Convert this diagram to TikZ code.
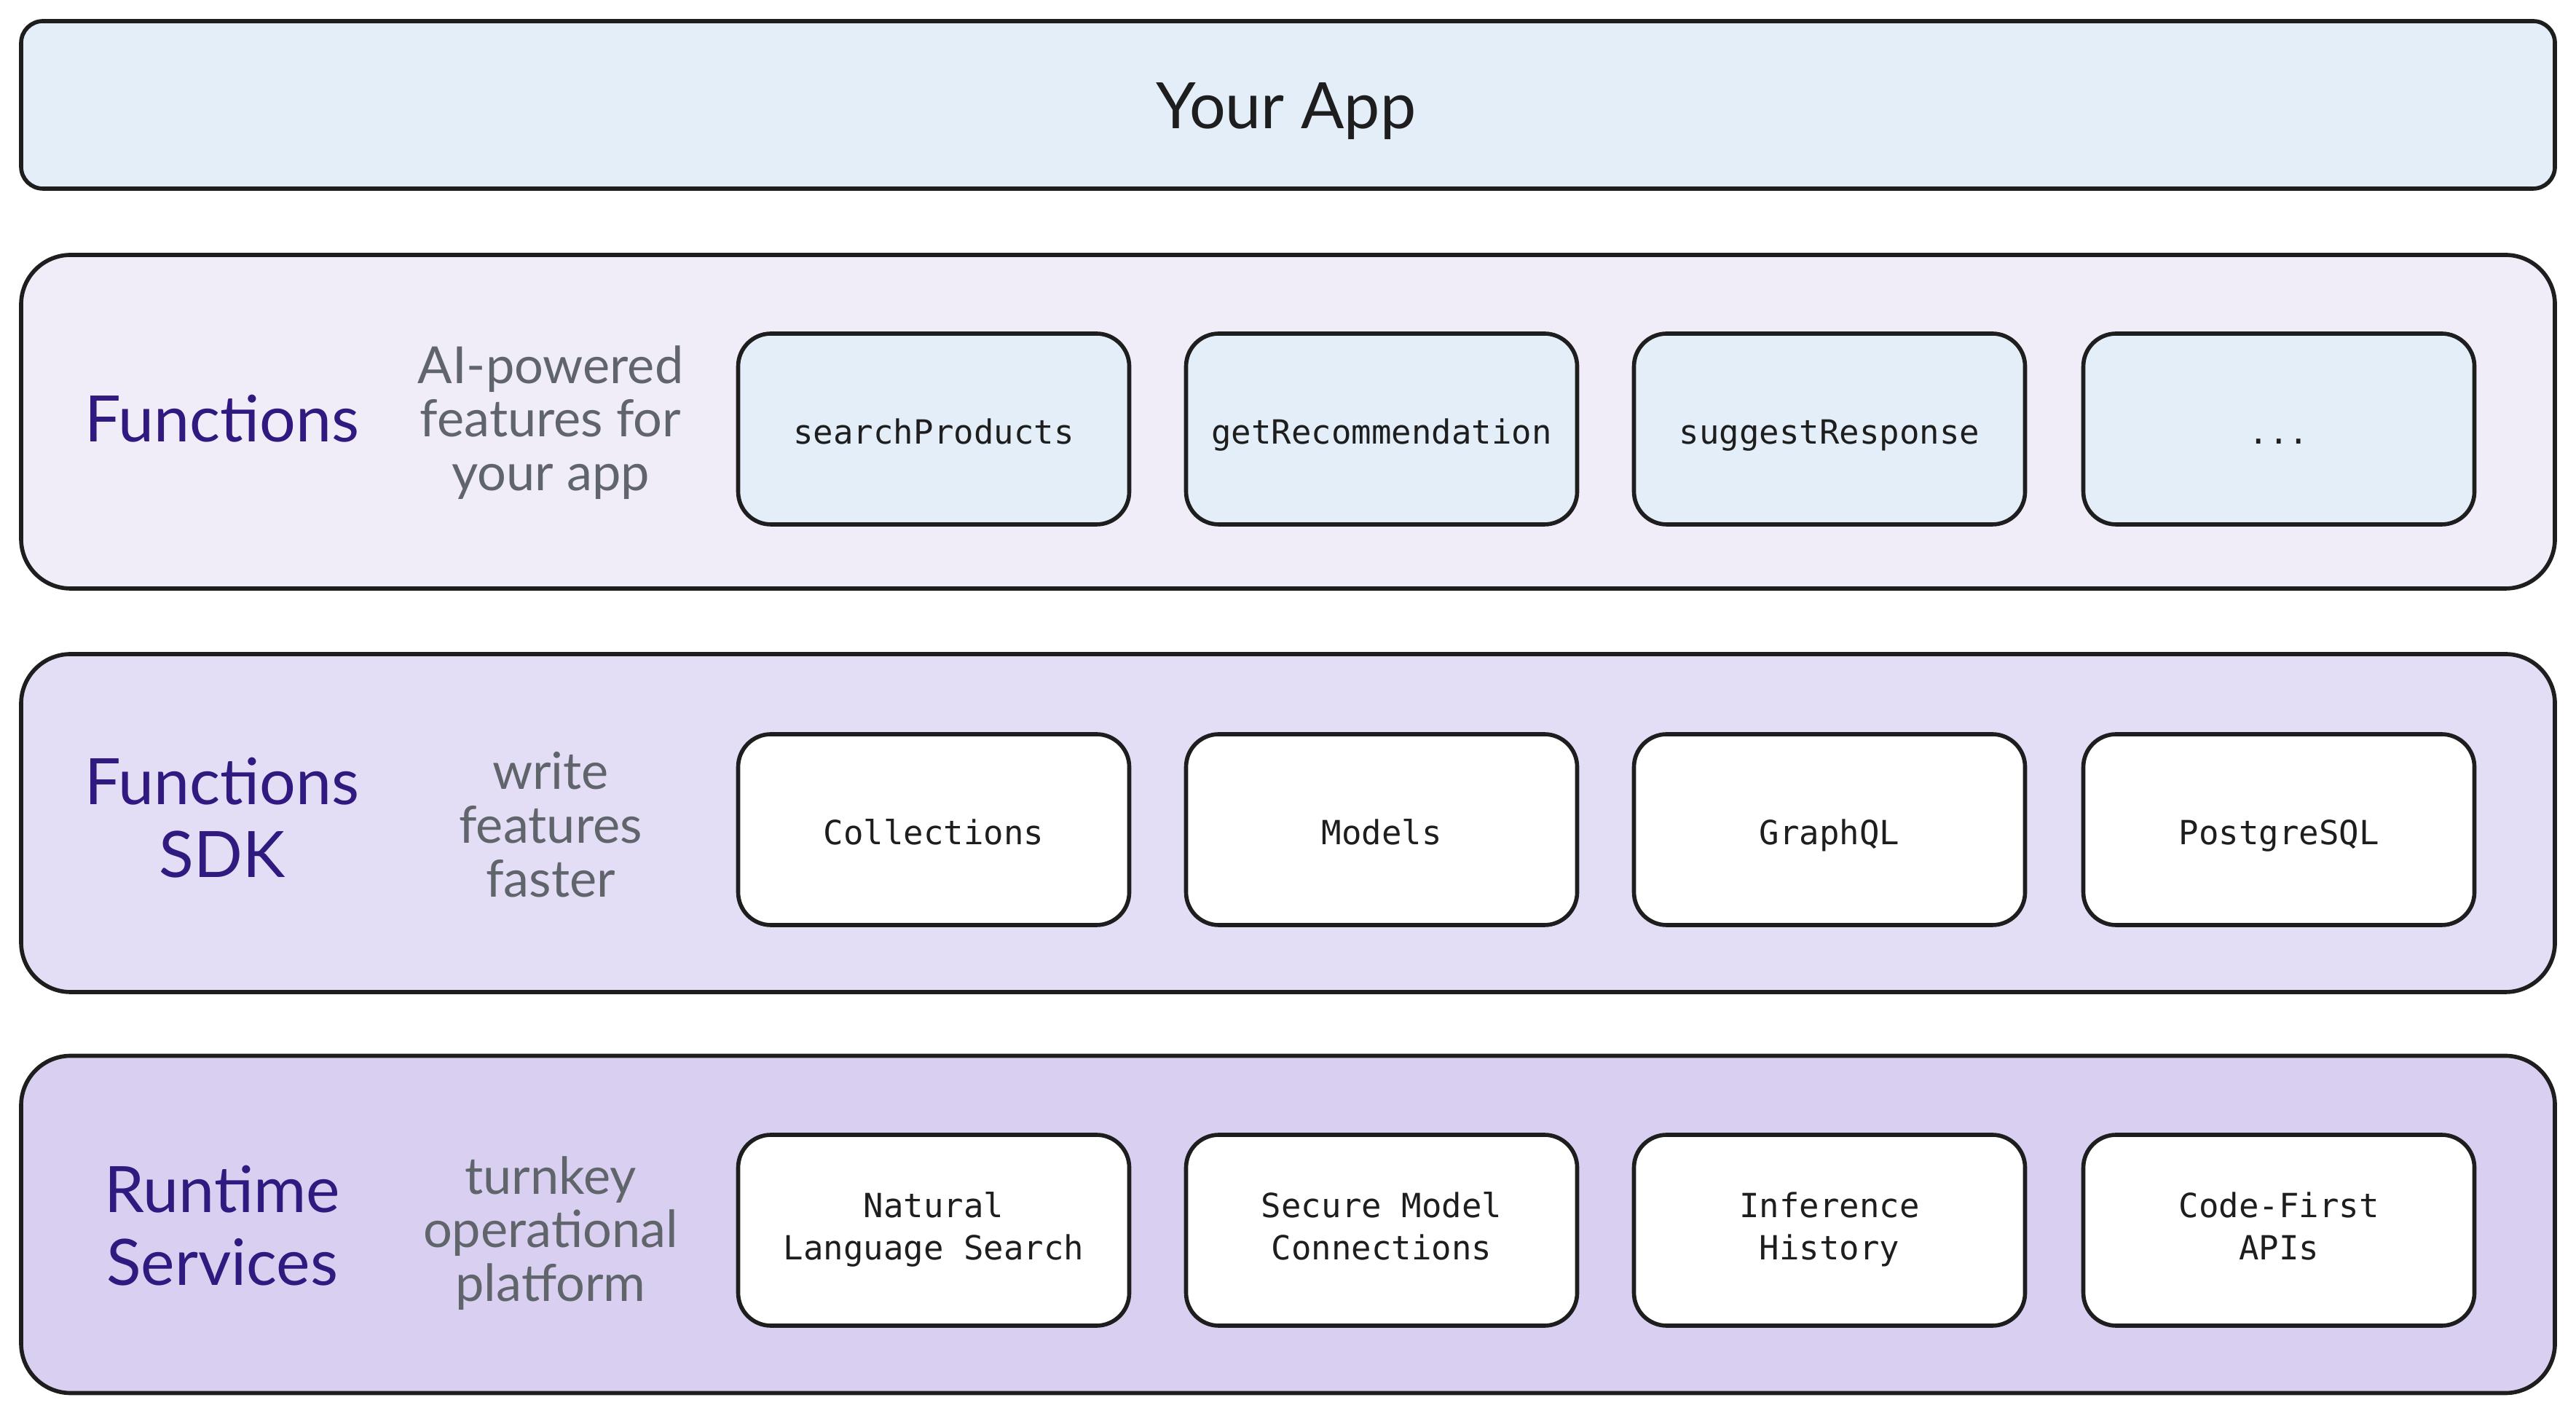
\documentclass[tikz,border=0pt]{standalone}
\usepackage{fontspec}
\setmainfont{Lato}
\setmonofont{DejaVu Sans Mono}
\definecolor{inkblack}{HTML}{1E1E1E}
\definecolor{appblue}{HTML}{E3EEF8}
\definecolor{fnlilac}{HTML}{F0ECF8}
\definecolor{sdklilac}{HTML}{E3DEF5}
\definecolor{rtlilac}{HTML}{D9D0F1}
\definecolor{titlepurple}{HTML}{30197F}
\definecolor{notegray}{HTML}{60646B}

\begin{document}
\begin{tikzpicture}[
	layer/.style={draw=inkblack, line width=1.6pt, rounded corners=0.68cm, minimum width=34.79cm, minimum height=4.6cm},
	fbox/.style={draw=inkblack, line width=1.6pt, rounded corners=0.45cm, minimum width=5.37cm, minimum height=2.62cm, fill=white, align=center, font=\ttfamily\fontsize{13}{16.5}\selectfont, text=inkblack, execute at begin node=\rule{0pt}{1.15em}, execute at end node=\rule[-0.25em]{0pt}{0pt}},
	title/.style={text=titlepurple, align=center, font=\fontsize{25}{28.5}\selectfont},
	note/.style={text=notegray, align=center, font=\fontsize{20}{21}\selectfont}]
	\useasboundingbox (0,0) rectangle (35.37,19.43);

	% top bar
	\node (app) [draw=inkblack, line width=1.6pt, rounded corners=0.3cm, fill=appblue, minimum width=34.79cm, minimum height=2.3cm] at (17.685,17.99) {};
	\node (apptext) at (17.66,17.9) [font=\fontsize{25}{30}\selectfont, text=inkblack] {Your App};

	% layers
	\node (fnlayer) [layer, fill=fnlilac, minimum height=4.58cm] at (17.685,13.64) {};
	\node (sdklayer) [layer, fill=sdklilac, minimum height=4.64cm] at (17.685,8.13) {};
	\node (rtlayer) [layer, fill=rtlilac, minimum height=4.63cm] at (17.685,2.62) {};

	\node (fntitle) [title] at (3.05,13.68) {Functions};
	\node (sdktitle) [title] at (3.05,8.2) {Functions\\SDK};
	\node (rttitle) [title] at (3.05,2.6) {Runtime\\Services};

	\node (fnnote) [note] at (7.56,13.63) {AI-powered\\features for\\your app};
	\node (sdknote) [note] at (7.56,8.11) {write\\features\\faster};
	\node (rtnote) [note] at (7.56,2.5) {turnkey\\operational\\platform};

	% functions row
	\node (search) [fbox, fill=appblue] at (12.82,13.54) {searchProducts};
	\node (recommend) [fbox, fill=appblue] at (18.97,13.54) {getRecommendation};
	\node (suggest) [fbox, fill=appblue] at (25.12,13.54) {suggestResponse};
	\node (more) [fbox, fill=appblue] at (31.29,13.54) {...};

	% sdk row
	\node (collections) [fbox] at (12.82,8.04) {Collections};
	\node (models) [fbox] at (18.97,8.04) {Models};
	\node (graphql) [fbox] at (25.12,8.04) {GraphQL};
	\node (postgres) [fbox] at (31.29,8.04) {PostgreSQL};

	% runtime row
	\node (nlsearch) [fbox] at (12.82,2.54) {Natural\\Language Search};
	\node (secure) [fbox] at (18.97,2.54) {Secure Model\\Connections};
	\node (inference) [fbox] at (25.12,2.54) {Inference\\History};
	\node (codefirst) [fbox] at (31.29,2.54) {Code-First\\APIs};
\end{tikzpicture}
\end{document}
